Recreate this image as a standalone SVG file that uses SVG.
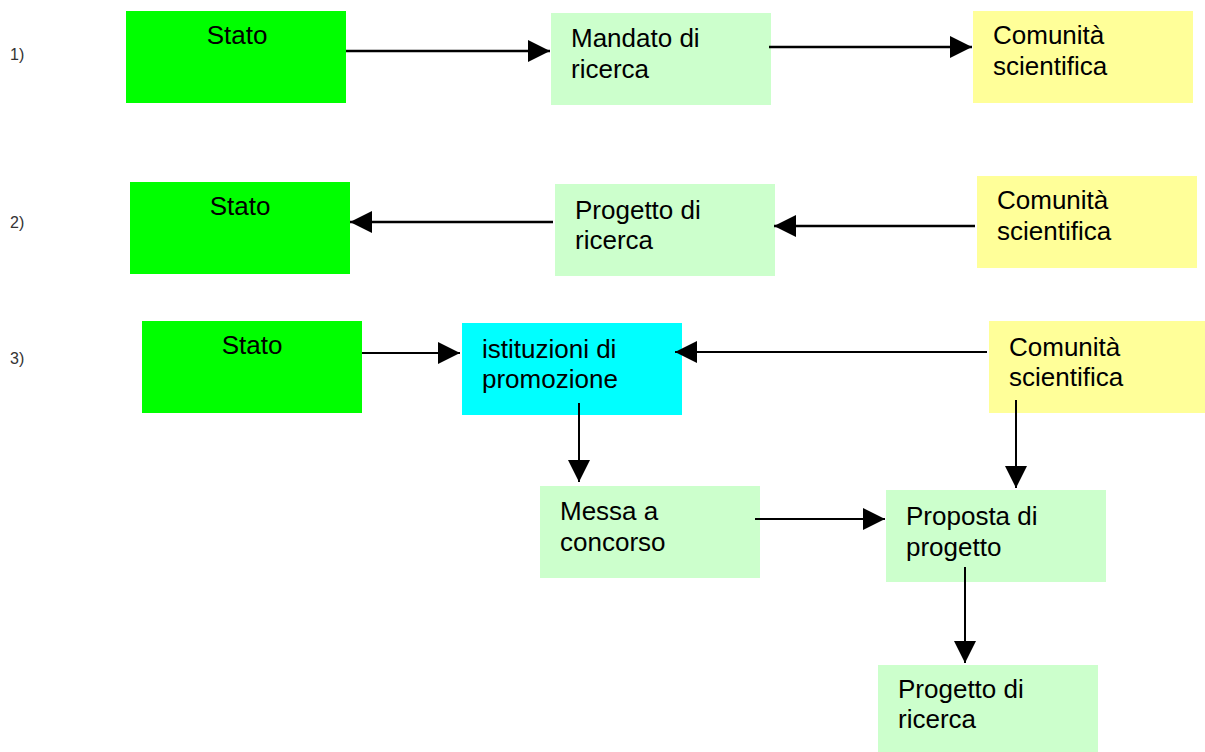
<svg xmlns="http://www.w3.org/2000/svg" width="1205" height="752" viewBox="0 0 1205 752">
  <style>
    .lbl { font-family: "Liberation Sans", Arial, sans-serif; font-size: 16px; fill: #333333; }
    .txt { font-family: "Liberation Sans", Arial, sans-serif; font-size: 26px; fill: #000000; }
    .stato { fill: #00ff00; }
    .light { fill: #ccffcc; }
    .yellow { fill: #ffff99; }
    .cyan { fill: #00ffff; }
    .conn { stroke: #000000; stroke-width: 2; fill: none; marker-end: url(#arrow); }
    .thick { stroke-width: 2.6; }
  </style>
  <defs>
    <marker id="arrow" viewBox="0 0 22 22" refX="22" refY="11" markerWidth="22" markerHeight="22" markerUnits="userSpaceOnUse" orient="auto">
      <path d="M0,0 L22,11 L0,22 Z" fill="#000000"/>
    </marker>
  </defs>
  <rect width="1205" height="752" fill="#ffffff"/>

  <!-- row labels -->
  <text class="lbl" x="10" y="60">1)</text>
  <text class="lbl" x="10" y="228">2)</text>
  <text class="lbl" x="10" y="364">3)</text>

  <!-- row 1 -->
  <g id="stato1">
    <rect class="stato" x="126" y="11" width="220" height="92"/>
    <text class="txt" x="237" y="44" text-anchor="middle">Stato</text>
  </g>
  <g id="mandato">
    <rect class="light" x="551" y="13" width="220" height="92"/>
    <text class="txt" x="571" y="47">Mandato di</text>
    <text class="txt" x="571" y="78">ricerca</text>
  </g>
  <g id="comunita1">
    <rect class="yellow" x="973" y="11" width="220" height="92"/>
    <text class="txt" x="993" y="44">Comunità</text>
    <text class="txt" x="993" y="75">scientifica</text>
  </g>

  <!-- row 2 -->
  <g id="stato2">
    <rect class="stato" x="130" y="182" width="220" height="92"/>
    <text class="txt" x="240" y="215" text-anchor="middle">Stato</text>
  </g>
  <g id="progetto2">
    <rect class="light" x="555" y="184" width="220" height="92"/>
    <text class="txt" x="575" y="219">Progetto di</text>
    <text class="txt" x="575" y="249">ricerca</text>
  </g>
  <g id="comunita2">
    <rect class="yellow" x="977" y="176" width="220" height="92"/>
    <text class="txt" x="997" y="209">Comunità</text>
    <text class="txt" x="997" y="240">scientifica</text>
  </g>

  <!-- row 3 -->
  <g id="stato3">
    <rect class="stato" x="142" y="321" width="220" height="92"/>
    <text class="txt" x="252" y="354" text-anchor="middle">Stato</text>
  </g>
  <g id="istituzioni">
    <rect class="cyan" x="462" y="323" width="220" height="92"/>
    <text class="txt" x="482" y="358">istituzioni di</text>
    <text class="txt" x="482" y="388">promozione</text>
  </g>
  <g id="comunita3">
    <rect class="yellow" x="989" y="321" width="220" height="92"/>
    <text class="txt" x="1009" y="356">Comunità</text>
    <text class="txt" x="1009" y="386">scientifica</text>
  </g>
  <g id="messa">
    <rect class="light" x="540" y="486" width="220" height="92"/>
    <text class="txt" x="560" y="520">Messa a</text>
    <text class="txt" x="560" y="551">concorso</text>
  </g>
  <g id="proposta">
    <rect class="light" x="886" y="490" width="220" height="92"/>
    <text class="txt" x="906" y="525">Proposta di</text>
    <text class="txt" x="906" y="556">progetto</text>
  </g>
  <g id="progetto3">
    <rect class="light" x="878" y="665" width="220" height="92"/>
    <text class="txt" x="898" y="698">Progetto di</text>
    <text class="txt" x="898" y="728">ricerca</text>
  </g>

  <!-- connectors -->
  <g id="connectors">
    <line class="conn thick" x1="346" y1="51" x2="550" y2="51"/>
    <line class="conn thick" x1="769" y1="47" x2="972" y2="47"/>
    <line class="conn thick" x1="553" y1="222" x2="350" y2="222"/>
    <line class="conn thick" x1="975" y1="226" x2="774" y2="226"/>
    <line class="conn" x1="362" y1="353" x2="460" y2="353"/>
    <line class="conn" x1="987" y1="352" x2="675" y2="352"/>
    <line class="conn" x1="579" y1="403" x2="579" y2="482"/>
    <line class="conn" x1="755" y1="519" x2="885" y2="519"/>
    <line class="conn" x1="1016" y1="400" x2="1016" y2="488"/>
    <line class="conn" x1="965" y1="567" x2="965" y2="663"/>
  </g>
</svg>
